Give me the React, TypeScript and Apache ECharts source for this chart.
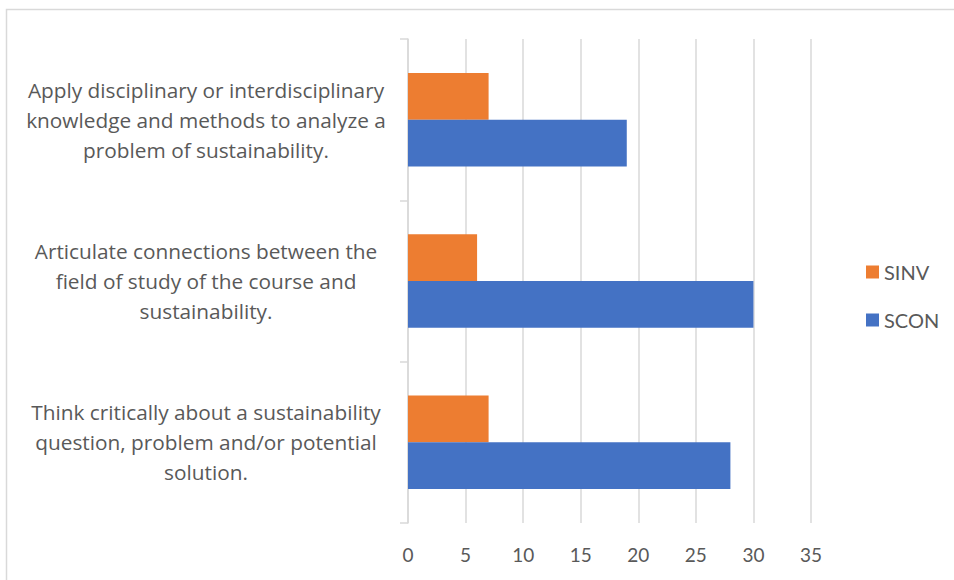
import React, { useEffect, useRef } from "react";
import * as echarts from "echarts";

const categories = [
  "Think critically about a sustainability\nquestion, problem and/or potential\nsolution.",
  "Articulate connections between the\nfield of study of the course and\nsustainability.",
  "Apply disciplinary or interdisciplinary\nknowledge and methods to analyze a\nproblem of sustainability.",
];
const sinvValues = [7, 6, 7];
const sconValues = [28, 30, 19];
const xTicks = { min: 0, max: 35, interval: 5 };

export default function App() {
  const ref = useRef<HTMLDivElement>(null);
  useEffect(() => {
    if (!ref.current) return;
    const chart = echarts.init(ref.current, undefined, { renderer: "svg" });
    const font = "Lato, 'Liberation Sans', sans-serif";
    const catFont = "'Open Sans', 'Noto Sans', sans-serif";
    chart.setOption({
      animation: false,
      backgroundColor: "#ffffff",
      graphic: [
        {
          type: "rect",
          shape: { x: 6.5, y: 9.5, width: 1000, height: 700 },
          style: { fill: "none", stroke: "#d9d9d9", lineWidth: 1.5 },
          silent: true,
        },
      ],
      grid: { left: 408, right: 143, top: 39, bottom: 57 },
      legend: {
        orient: "vertical",
        left: 861,
        top: 257,
        itemWidth: 13,
        itemHeight: 13,
        itemGap: 28,
        icon: "rect",
        textStyle: { fontFamily: font, fontSize: 20, color: "#595959" },
        data: ["SINV", "SCON"],
      },
      xAxis: {
        type: "value",
        min: xTicks.min,
        max: xTicks.max,
        interval: xTicks.interval,
        axisLine: { show: false },
        axisTick: { show: false },
        axisLabel: {
          fontFamily: font,
          fontSize: 19,
          color: "#595959",
          margin: 22,
        },
        splitLine: { lineStyle: { color: "#d9d9d9", width: 1.5 } },
      },
      yAxis: {
        type: "category",
        data: categories,
        axisLine: { show: true, lineStyle: { color: "#d9d9d9", width: 1.5 } },
        axisTick: { show: true, length: 8, lineStyle: { color: "#d9d9d9", width: 1.5 } },
        axisLabel: {
          fontFamily: catFont,
          fontSize: 20.8,
          color: "#595959",
          align: "center",
          margin: 202,
          lineHeight: 30,
        },
      },
      series: [
        {
          name: "SINV",
          type: "bar",
          data: sinvValues,
          itemStyle: { color: "#ED7D31" },
          barGap: "0%",
          barCategoryGap: "42%",
        },
        {
          name: "SCON",
          type: "bar",
          data: sconValues,
          itemStyle: { color: "#4472C4" },
          barGap: "0%",
          barCategoryGap: "42%",
        },
      ],
    });
    return () => chart.dispose();
  }, []);
  return (
    <div
      ref={ref}
      style={{ position: "fixed", left: 0, top: 0, width: 954, height: 580 }}
    />
  );
}
